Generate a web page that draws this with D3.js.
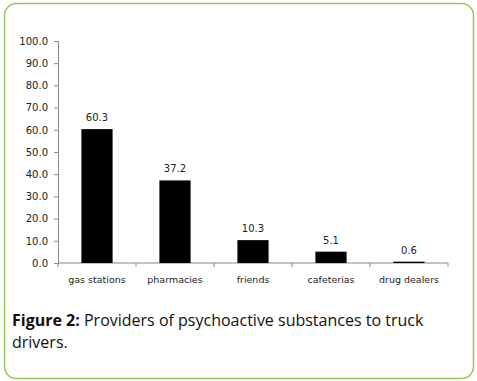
<!DOCTYPE html>
<html lang="en">
<head>
<meta charset="UTF-8">
<title>Providers of psychoactive substances</title>
<script src="https://d3js.org/d3.v7.min.js"></script>
<style>
  body { margin: 0; background: #fff; }
  .tick text { fill: #222; }
  .caption { font-family: "Open Sans", sans-serif; font-size: 16px; fill: #111; }
</style>
</head>
<body>
<div id="chart"></div>
<script>
// data
const categories = ["gas stations", "pharmacies", "friends", "cafeterias", "drug dealers"];
const values = [60.3, 37.2, 10.3, 5.1, 0.6];
const yTicks = [0, 10, 20, 30, 40, 50, 60, 70, 80, 90, 100];

const W = 477, H = 381;
const svg = d3.select("#chart").append("svg")
    .attr("width", W)
    .attr("height", H);

// rounded green frame
svg.append("rect")
    .attr("x", 4.5).attr("y", 3.5)
    .attr("width", 469).attr("height", 375)
    .attr("rx", 12)
    .attr("fill", "#fff")
    .attr("stroke", "#98c85a")
    .attr("stroke-width", 1.5);

const plot = {left: 58, right: 448, top: 41, bottom: 263};

const x = d3.scaleBand()
    .domain(categories)
    .range([plot.left, plot.right])
    .paddingInner(0.6)
    .paddingOuter(0.3);

const y = d3.scaleLinear()
    .domain([0, 100])
    .range([plot.bottom, plot.top]);

// y axis
const yAxis = svg.append("g")
    .attr("transform", `translate(${plot.left},0)`)
    .call(d3.axisLeft(y).tickValues(yTicks).tickFormat(d3.format(".1f")).tickSize(4).tickPadding(6));
yAxis.selectAll("text").style("font-family", "'DejaVu Sans', sans-serif").style("font-size", "10px");
yAxis.selectAll("line, path").attr("stroke", "#888");

// x axis with ticks on band boundaries
const xAxis = svg.append("g")
    .attr("transform", `translate(0,${plot.bottom})`);
xAxis.append("line")
    .attr("x1", plot.left).attr("x2", plot.right)
    .attr("stroke", "#888");
const step = (plot.right - plot.left) / categories.length;
xAxis.selectAll("line.tk")
    .data(d3.range(categories.length + 1))
    .join("line")
    .attr("class", "tk")
    .attr("x1", i => plot.left + i * step).attr("x2", i => plot.left + i * step)
    .attr("y1", 0).attr("y2", 4)
    .attr("stroke", "#888");
xAxis.selectAll("text")
    .data(categories)
    .join("text")
    .attr("x", d => x(d) + x.bandwidth() / 2)
    .attr("y", 20)
    .attr("text-anchor", "middle")
    .style("font-family", "'DejaVu Sans', sans-serif")
    .style("font-size", "9.5px")
    .attr("fill", "#222")
    .text(d => d);

// bars
svg.selectAll("rect.bar")
    .data(values)
    .join("rect")
    .attr("class", "bar")
    .attr("x", (d, i) => x(categories[i]))
    .attr("width", x.bandwidth())
    .attr("y", d => y(d))
    .attr("height", d => y(0) - y(d))
    .attr("fill", "#000");

// value labels
svg.selectAll("text.val")
    .data(values)
    .join("text")
    .attr("class", "val")
    .attr("x", (d, i) => x(categories[i]) + x.bandwidth() / 2)
    .attr("y", d => y(d) - 8)
    .attr("text-anchor", "middle")
    .style("font-family", "'DejaVu Sans', sans-serif")
    .style("font-size", "10px")
    .attr("fill", "#222")
    .text(d => d.toFixed(1));

// caption
const cap = svg.append("text").attr("class", "caption")
    .attr("x", 12).attr("y", 326);
cap.append("tspan").style("font-weight", "bold").text("Figure 2:");
cap.append("tspan").text(" Providers of psychoactive substances to truck");
svg.append("text").attr("class", "caption")
    .attr("x", 12).attr("y", 348)
    .text("drivers.");
</script>
</body>
</html>
